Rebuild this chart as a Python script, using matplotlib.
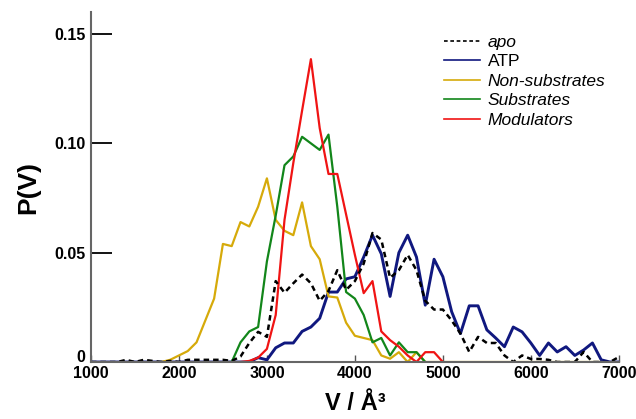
import matplotlib
matplotlib.use("Agg")
import matplotlib.pyplot as plt
import matplotlib.transforms as mtransforms
import numpy as np

plt.rcParams['font.family'] = ['Liberation Sans', 'DejaVu Sans']

# volume bins (A^3)
v_all = np.arange(1000, 7001, 100)

apo = [0, 0, 0, 0, 0.001, 0, 0.001, 0.0005, 0, 0.0005,
       0, 0.001, 0.001, 0.001, 0.001, 0.001, 0.0005, 0.0025, 0.0087, 0.0138,
       0.0115, 0.037, 0.0317, 0.036, 0.040, 0.036, 0.028, 0.0325, 0.042, 0.033,
       0.037, 0.045, 0.059, 0.056, 0.0385, 0.042, 0.049, 0.042, 0.028, 0.024,
       0.024, 0.019, 0.013, 0.0046, 0.0115, 0.0087, 0.0087, 0.003, 0, 0.003,
       0.0014, 0.0014, 0.001, 0, 0, 0, 0.0046, 0, 0, 0,
       0.0023]

atp = [0, 0, 0, 0, 0, 0, 0, 0, 0, 0,
       0, 0, 0, 0, 0, 0, 0, 0, 0, 0.002,
       0.001, 0.0065, 0.0087, 0.0087, 0.014, 0.016, 0.020, 0.032, 0.032, 0.038,
       0.039, 0.048, 0.058, 0.0495, 0.030, 0.050, 0.058, 0.048, 0.026, 0.047,
       0.039, 0.023, 0.013, 0.0257, 0.0257, 0.0147, 0.011, 0.007, 0.016, 0.0138,
       0.0087, 0.003, 0.0087, 0.0046, 0.007, 0.003, 0.0055, 0.0087, 0.001, 0,
       0]

v_non = np.arange(1800, 6801, 100)
non_substrates = [0, 0.001, 0.003, 0.005, 0.009, 0.019, 0.029, 0.054, 0.053, 0.064,
                  0.062, 0.071, 0.084, 0.065, 0.060, 0.058, 0.073, 0.053, 0.047, 0.030,
                  0.0295, 0.018, 0.012, 0.011, 0.010, 0.003, 0.0015, 0.0045, 0, 0.0045,
                  0, 0, 0, 0, 0, 0, 0, 0, 0, 0,
                  0, 0, 0, 0, 0, 0, 0, 0, 0, 0,
                  0]

v_sub = np.arange(2600, 4801, 100)
substrates = [0, 0.009, 0.014, 0.016, 0.046, 0.067, 0.090, 0.094, 0.103, 0.100,
              0.097, 0.104, 0.071, 0.032, 0.029, 0.0215, 0.009, 0.011, 0.003, 0.009,
              0.0045, 0.0045, 0]

v_mod = np.arange(2700, 5001, 100)
modulators = [0, 0.0005, 0.002, 0.006, 0.0215, 0.065, 0.091, 0.115, 0.1385, 0.107,
              0.086, 0.086, 0.0675, 0.049, 0.0315, 0.037, 0.014, 0.010, 0.007, 0.003,
              0, 0.0045, 0.0045, 0]

fig = plt.figure(figsize=(6.36, 4.19), dpi=100)
ax = fig.add_axes([0.143, 0.136, 0.830, 0.835])

l_atp, = ax.plot(v_all, atp, color='#10187f', lw=2.1, label='ATP')
l_non, = ax.plot(v_non, non_substrates, color='#d6aa0a', lw=1.6, label='Non-substrates')
l_sub, = ax.plot(v_sub, substrates, color='#12861a', lw=1.6, label='Substrates')
l_mod, = ax.plot(v_mod, modulators, color='#f01414', lw=1.6, label='Modulators')
l_apo, = ax.plot(v_all, apo, color='black', lw=1.8, ls=(0, (2.2, 1.6)), label='apo')

ax.set_xlim(1000, 7000)
ax.set_ylim(0, 0.16)
ax.set_xticks(range(1000, 7001, 1000))
ax.set_yticks([0, 0.05, 0.10, 0.15])
ax.set_yticklabels(['0', '0.05', '0.10', '0.15'])

for s in ['top', 'right']:
    ax.spines[s].set_visible(False)
for s in ['left', 'bottom']:
    ax.spines[s].set_color('#666666')
    ax.spines[s].set_linewidth(1.5)

ax.tick_params(axis='y', direction='in', length=15, width=1.3, color='black', pad=4)
ax.tick_params(axis='x', direction='in', length=5, width=1.0, color='#555555', pad=3)
for lab in ax.get_xticklabels() + ax.get_yticklabels():
    lab.set_fontweight('bold')
    lab.set_fontsize(11.5)

# lift the "0" label a little so it clears the x tick labels
zero = ax.get_yticklabels()[0]
zero.set_transform(zero.get_transform() +
                   mtransforms.ScaledTranslation(0, 4 / 72, fig.dpi_scale_trans))

ax.set_ylabel('P(V)', fontsize=19, fontweight='bold', labelpad=10)
ax.set_xlabel('V / Å³', fontsize=17, fontweight='bold', labelpad=8)

leg = ax.legend(handles=[l_apo, l_atp, l_non, l_sub, l_mod],
                loc='upper left', bbox_to_anchor=(0.655, 0.955), frameon=False,
                fontsize=12.5, handlelength=2.1, handletextpad=0.45,
                labelspacing=0.25, borderaxespad=0)
for t in leg.get_texts():
    if t.get_text() != 'ATP':
        t.set_style('italic')
for h in leg.legend_handles:
    h.set_linewidth(1.2)

fig.savefig('out.png', dpi=100)
